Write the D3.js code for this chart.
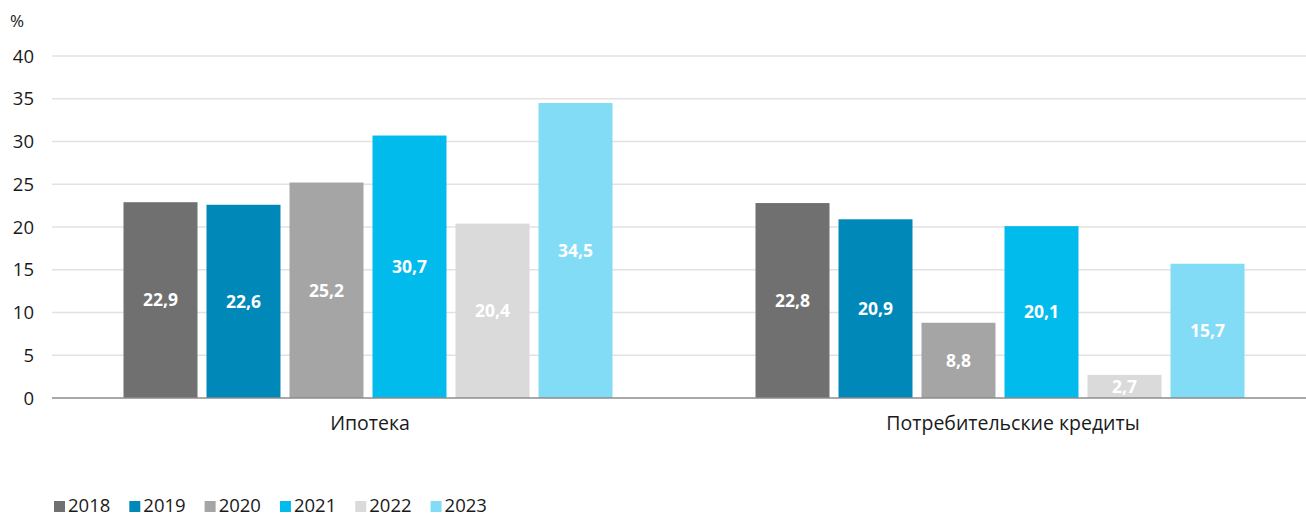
<!DOCTYPE html>
<meta charset="utf-8">
<title>Ипотека и потребительские кредиты</title>
<style>
    body {
        margin: 0;
        background: #fff;
    }

    svg text {
        font-family: "Open Sans", Lato, sans-serif;
        fill: #1a1a1a;
    }

    .grid line {
        stroke: #e2e2e2;
        stroke-width: 1.5;
    }

    .baseline {
        stroke: #8c8c8c;
        stroke-width: 1.5;
    }

    .value {
        fill: #fff !important;
        font-weight: 700;
    }
</style>

<body>
<script src="https://cdn.jsdelivr.net/npm/d3@7/dist/d3.min.js"></script>
<script>
    var categories = ["Ипотека", "Потребительские кредиты"];
    var years = ["2018", "2019", "2020", "2021", "2022", "2023"];
    var mortgage = [22.9, 22.6, 25.2, 30.7, 20.4, 34.5];
    var consumer = [22.8, 20.9, 8.8, 20.1, 2.7, 15.7];
    var yTicks = [0, 5, 10, 15, 20, 25, 30, 35, 40];
    var colors = ["#6f706f", "#0088b9", "#a5a5a5", "#00bbec", "#dadada", "#82dcf5"];

    var seriesByCategory = [mortgage, consumer];

    var W = 1306, H = 517;
    var plotLeft = 52, plotTop = 56, plotBottom = 398;

    var svg = d3.select("body").append("svg")
        .attr("width", W)
        .attr("height", H);

    var y = d3.scaleLinear().domain([0, 40]).range([plotBottom, plotTop]);

    var x0 = d3.scaleBand()
        .domain(categories)
        .range([plotLeft, 1316]);

    var x1 = d3.scaleBand()
        .domain(years)
        .range([0, 489])
        .paddingInner(9 / 83);

    var color = d3.scaleOrdinal().domain(years).range(colors);

    // grid
    svg.append("g")
        .attr("class", "grid")
        .selectAll("line")
        .data(yTicks.slice(1))
        .enter()
        .append("line")
        .attr("x1", plotLeft)
        .attr("x2", W)
        .attr("y1", function(d) { return y(d); })
        .attr("y2", function(d) { return y(d); });

    // y labels
    svg.append("g")
        .selectAll("text")
        .data(yTicks)
        .enter()
        .append("text")
        .attr("x", 34)
        .attr("y", function(d) { return y(d); })
        .attr("dy", "0.36em")
        .attr("text-anchor", "end")
        .style("font-size", "18.5px")
        .text(function(d) { return d; });

    svg.append("text")
        .attr("x", 10)
        .attr("y", 27)
        .style("font-size", "17px")
        .text("%");

    var groupOffset = (x0.bandwidth() - 489) / 2;

    var groups = svg.append("g")
        .selectAll("g")
        .data(categories)
        .enter()
        .append("g")
        .attr("transform", function(d) {
            return "translate(" + (x0(d) + groupOffset) + ",0)";
        });

    var bars = groups.selectAll("g")
        .data(function(d, i) {
            return years.map(function(yr, j) {
                return { year: yr, value: seriesByCategory[i][j] };
            });
        })
        .enter()
        .append("g");

    bars.append("rect")
        .attr("x", function(d) { return x1(d.year); })
        .attr("width", x1.bandwidth())
        .attr("y", function(d) { return y(d.value); })
        .attr("height", function(d) { return y(0) - y(d.value); })
        .attr("fill", function(d) { return color(d.year); });

    bars.append("text")
        .attr("class", "value")
        .attr("x", function(d) { return x1(d.year) + x1.bandwidth() / 2; })
        .attr("y", function(d) { return (y(d.value) + y(0)) / 2; })
        .attr("dy", "0.36em")
        .attr("text-anchor", "middle")
        .style("font-size", "17.5px")
        .text(function(d) { return String(d.value).replace(".", ","); });

    // baseline
    svg.append("line")
        .attr("class", "baseline")
        .attr("x1", plotLeft)
        .attr("x2", W)
        .attr("y1", y(0))
        .attr("y2", y(0));

    // category labels
    svg.append("g")
        .selectAll("text")
        .data(categories)
        .enter()
        .append("text")
        .attr("x", function(d, i) { return x0(d) + x0.bandwidth() / 2 + (i ? 13 : 2); })
        .attr("y", 430)
        .attr("text-anchor", "middle")
        .style("font-size", "19.5px")
        .text(function(d) { return d; });

    // legend
    var legend = svg.append("g").attr("transform", "translate(54,0)");
    var lx = 0;
    years.forEach(function(yr) {
        var item = legend.append("g").attr("transform", "translate(" + lx + ",0)");
        item.append("rect")
            .attr("x", 0)
            .attr("y", 501)
            .attr("width", 11)
            .attr("height", 11)
            .attr("fill", color(yr));
        var t = item.append("text")
            .attr("x", 14)
            .attr("y", 511.5)
            .style("font-size", "18.5px")
            .text(yr);
        lx += 14 + t.node().getComputedTextLength() + 19;
    });
</script>
</body>
